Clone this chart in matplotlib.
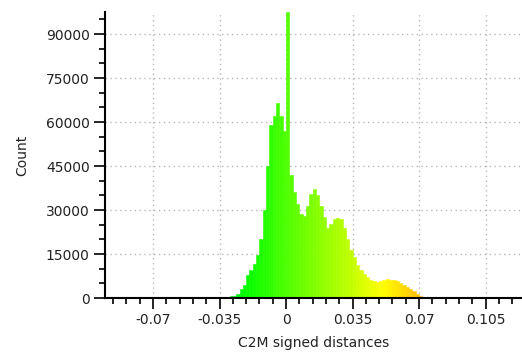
import numpy as np
import matplotlib
matplotlib.use("Agg")
import matplotlib.pyplot as plt
from matplotlib.colors import LinearSegmentedColormap
from matplotlib.ticker import MultipleLocator, FixedLocator, FixedFormatter

# Histogram of C2M signed distances (bin width 0.00175, first bin starts at -0.0385)
bin_width = 0.00175
first_edge = -0.0385
counts = [
    100, 150, 200, 300, 400, 550, 800, 1500, 3000, 4500,
    8000, 9500, 11500, 14500, 20000, 30000, 45000, 59000, 62000, 66500,
    62000, 57000, 97500, 42000, 36000, 32000, 28500, 28000, 31500, 35500,
    37200, 35000, 31500, 27500, 24000, 25200, 27000, 27200, 27000, 24000,
    20000, 16500, 14000, 11200, 9500, 8200, 7200, 6300, 5700, 5600,
    5800, 6200, 6500, 6300, 6000, 5700, 5200, 4600, 3900, 3100,
    2300, 1400, 600, 500, 500, 480, 460, 450, 440, 420,
    400, 380, 360, 340, 320, 300, 280, 250, 220, 180,
]

# Scalar-field range used for the colour scale
sf_min, sf_max = -0.0953, 0.1242

x_ticks = [-0.07, -0.035, 0, 0.035, 0.07, 0.105]
x_tick_labels = ["-0.07", "-0.035", "0", "0.035", "0.07", "0.105"]
y_ticks = [0, 15000, 30000, 45000, 60000, 75000, 90000]
y_tick_labels = ["0", "15000", "30000", "45000", "60000", "75000", "90000"]

bgyr = LinearSegmentedColormap.from_list(
    "bgyr", [(0.0, "#0000ff"), (1 / 3, "#00ff00"), (2 / 3, "#ffff00"), (1.0, "#ff0000")]
)

fig = plt.figure(figsize=(5.22, 3.56), dpi=100)
ax = fig.add_axes([105 / 522, 1 - 298 / 356, 1 - 105 / 522, (298 - 12) / 356])

counts = np.asarray(counts, dtype=float)
lefts = first_edge + bin_width * np.arange(len(counts))
centers = lefts + bin_width / 2
colors = bgyr((centers - sf_min) / (sf_max - sf_min))
ax.bar(lefts, counts, width=bin_width, align="edge", color=colors,
       edgecolor=colors, linewidth=0.4, zorder=2)

ax.set_xlim(sf_min, sf_max)
ax.set_ylim(0, 97500)

text_color = "#222222"
ax.xaxis.set_major_locator(FixedLocator(x_ticks))
ax.xaxis.set_major_formatter(FixedFormatter(x_tick_labels))
ax.xaxis.set_minor_locator(MultipleLocator(0.007))
ax.yaxis.set_major_locator(FixedLocator(y_ticks))
ax.yaxis.set_major_formatter(FixedFormatter(y_tick_labels))
ax.yaxis.set_minor_locator(MultipleLocator(5000))

ax.tick_params(axis="both", which="major", direction="out", length=8, width=1.2,
               labelsize=10, colors="black", labelcolor=text_color, pad=3)
ax.tick_params(axis="both", which="minor", direction="out", length=4.5, width=1.2,
               colors="black")

ax.grid(True, which="major", linestyle=(0, (1, 2.5)), color="#b8b8b8", linewidth=1.0, zorder=0)
ax.set_axisbelow(True)

for side in ("top", "right"):
    ax.spines[side].set_visible(False)
for side in ("left", "bottom"):
    ax.spines[side].set_linewidth(1.5)
    ax.spines[side].set_color("black")

ax.set_xlabel("C2M signed distances", fontsize=10, color=text_color, labelpad=6)
ax.set_ylabel("Count", fontsize=10, color=text_color, labelpad=12)

fig.savefig("out.png", dpi=100)
